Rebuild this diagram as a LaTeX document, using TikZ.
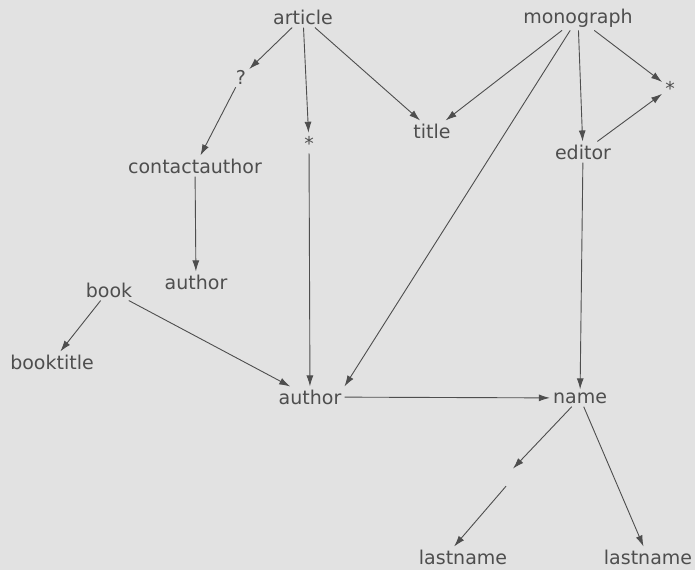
\documentclass[tikz,border=0pt]{standalone}
\usepackage{fontspec}
\setmainfont{DejaVu Sans}
\usetikzlibrary{arrows.meta}

\definecolor{paper}{RGB}{226,226,226}
\definecolor{ink}{RGB}{78,78,78}

\tikzset{
  elem/.style={text=ink, inner sep=3pt, font=\fontsize{19}{22}\selectfont},
  hole/.style={circle, minimum size=20pt, inner sep=0pt},
  edge/.style={draw=ink, line width=0.9pt, -{Latex[length=11pt,width=7pt]}}
}

\begin{document}
\begin{tikzpicture}[x=1pt,y=-1pt]
             \fill[paper] (0,0) rectangle (695,570);
             \useasboundingbox (0,0) rectangle (695,570);

             % top row
             \node[elem] (article) at (303,17) {article};
             \node[elem] (mono) at (578,18) {monograph};

             \node[elem] (opt) at (241,77) {?};
             \node[elem] (star1) at (309,143) {*};
             \node[elem] (title) at (432,131) {title};
             \node[elem] (star2) at (670,88) {*};
             \node[elem] (editor) at (583,152) {editor};

             \node[elem] (contact) at (195,166) {contactauthor};
             \node[elem] (auth1) at (196,282) {author};
             \node[elem] (book) at (109,290) {book};
             \node[elem] (btitle) at (52,362) {booktitle};

             \node[elem] (auth2) at (310,397) {author};
             \node[elem] (name) at (580,398) {name};
             \node[hole] (blank) at (506,476) {};
             \node[elem] (last1) at (463,557) {lastname};
             \node[elem] (last2) at (648,557) {lastname};

             \draw[edge] (article) -- (opt);
             \draw[edge] (article) -- (star1);
             \draw[edge] (article) -- (title);
             \draw[edge] (mono) -- (title);
             \draw[edge] (mono) -- (auth2.north east);
             \draw[edge] (mono) -- (editor);
             \draw[edge] (mono) -- (star2);
             \draw[edge] (editor) -- (star2);

             \draw[edge] (opt) -- (contact);
             \draw[edge] (contact) -- (auth1);
             \draw[edge] (star1) -- (auth2);
             \draw[edge] (book) -- (btitle);
             \draw[edge] (book) -- (auth2);

             \draw[edge] (auth2) -- (name);
             \draw[edge] (editor) -- (name);
             \draw[edge] (name) -- (blank);
             \draw[edge] (blank.south) -- (last1.130);
             \draw[edge] (name) -- (last2);
\end{tikzpicture}
\end{document}
